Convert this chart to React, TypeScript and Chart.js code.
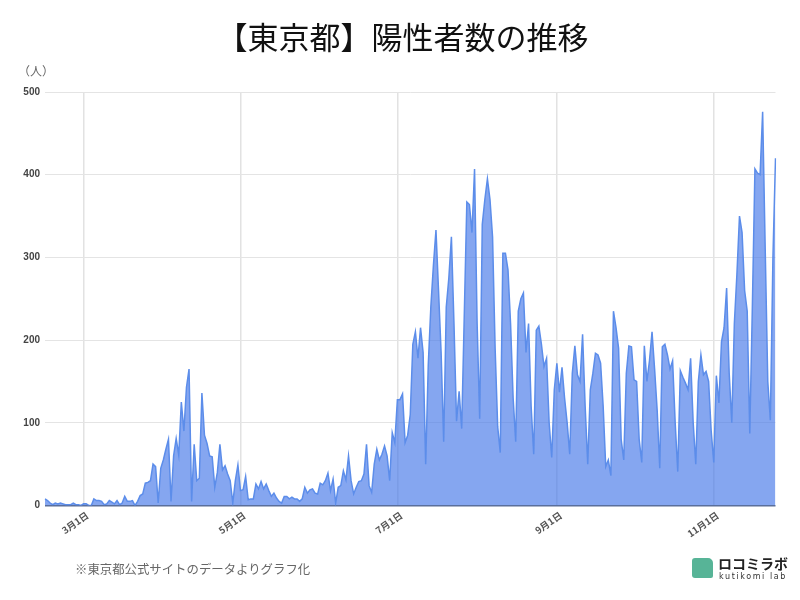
import React, { useEffect, useRef } from "react";
import { Chart, registerables } from "chart.js";

Chart.register(...registerables);

const titleText = "【東京都】陽性者数の推移";
const unitText = "（人）";
const noteText = "※東京都公式サイトのデータよりグラフ化";
const logoText = "ロコミラボ";
const logoSub = "kutikomi lab";

const monthLengths: [number, number][] = [[2, 29], [3, 31], [4, 30], [5, 31], [6, 30], [7, 31], [8, 31], [9, 30], [10, 31], [11, 25]];
const shownTicks = ["3月1日", "5月1日", "7月1日", "9月1日", "11月1日"];
const yTicks = [0, 100, 200, 300, 400, 500];

const days: string[] = [];
monthLengths.forEach(([m, n]) => {
  for (let d = m === 2 ? 15 : 1; d <= n; d++) days.push(`${m}月${d}日`);
});

const febApr = [
  8, 6, 3, 1, 3, 2, 3, 2, 1, 1, 1, 3, 1, 1, 0,
  2, 2, 0, 0, 8, 6, 6, 5, 1, 2, 6, 4, 2, 6, 1, 3, 11, 5, 5, 6, 0, 5, 12, 14, 27, 28, 30, 50, 47, 3, 45,
  55, 68, 80, 5, 60, 81, 61, 125, 90, 143, 165, 5, 74, 30, 33, 136, 85, 75, 60, 59, 22, 40, 74, 43, 48, 38, 30, 3, 30, 49,
];
const mayJun = [
  18, 19, 35, 7, 8, 8, 26, 20, 29, 20, 26, 18, 11, 15, 9, 5, 3, 11, 11, 8, 10, 8, 8, 5, 8, 22, 15, 19, 20, 15, 14,
  27, 25, 30, 39, 18, 32, 3, 22, 24, 42, 31, 60, 30, 14, 22, 29, 30, 38, 74, 24, 16, 50, 68, 55, 62, 72, 60, 30, 88, 76,
];
const julAug = [
  128, 128, 135, 76, 85, 110, 195, 210, 178, 215, 185, 50, 170, 240, 290, 333, 260, 185, 77, 240, 275, 325, 220, 102, 138, 93, 230, 367, 364, 330, 407,
  220, 105, 340, 370, 395, 370, 325, 190, 95, 64, 305, 305, 285, 220, 130, 77, 235, 250, 257, 185, 220, 120, 62, 212, 217, 195, 168, 178, 100, 58,
];
const sepOct = [
  140, 172, 137, 167, 130, 100, 62, 160, 193, 158, 150, 207, 120, 50, 140, 160, 184, 182, 172, 120, 47, 55, 36, 235, 215, 190, 80, 55, 160, 193,
  192, 152, 150, 80, 52, 193, 150, 175, 210, 165, 115, 45, 192, 195, 182, 165, 175, 100, 41, 163, 155, 148, 140, 178, 100, 50, 150, 182, 158, 162, 150, 90,
];
const novValues = [52, 157, 124, 198, 215, 263, 160, 100, 220, 280, 350, 330, 260, 235, 87, 240, 407, 402, 400, 476, 310, 150, 103, 300, 420];
const positives = [...febApr, ...mayJun, ...julAug, ...sepOct, ...novValues];

const jpFont = '"Noto Sans CJK JP", "Noto Sans", sans-serif';

export default function App() {
  const ref = useRef<HTMLCanvasElement>(null);
  useEffect(() => {
    document.body.style.margin = "0";
    const chart = new Chart(ref.current!, {
      type: "line",
      data: {
        labels: days,
        datasets: [
          {
            data: positives,
            borderColor: "#5c8dea",
            borderWidth: 1.5,
            backgroundColor: "rgba(70,120,232,0.66)",
            fill: "origin",
            pointRadius: 0,
            tension: 0,
            yAxisID: "y",
          },
        ],
      },
      options: {
        responsive: false,
        animation: false,
        layout: { padding: { left: 5 } },
        plugins: {
          legend: { display: false },
          tooltip: { enabled: false },
          title: {
            display: true,
            text: titleText,
            color: "#111",
            font: { family: jpFont, size: 31, weight: "normal" },
            padding: { top: 19, bottom: 35.8 },
          },
        },
        scales: {
          x: {
            type: "category",
            afterBuildTicks: (s: any) => {
              s.ticks = s.ticks.filter((t: any) => shownTicks.includes(days[t.value]));
            },
            afterFit: (s: any) => {
              s.height = 94.5;
            },
            ticks: {
              autoSkip: false,
              maxRotation: 35,
              minRotation: 35,
              padding: 4,
              labelOffset: 4,
              color: "#555",
              font: { family: jpFont, size: 9.5, weight: "bold" },
            },
            grid: { color: "#e2e2e2", lineWidth: 1.5, drawTicks: false },
            border: { display: false },
          },
          y: {
            min: 0,
            max: 500,
            afterFit: (s: any) => {
              s.width = 40;
            },
            afterBuildTicks: (s: any) => {
              s.ticks = yTicks.map((value) => ({ value }));
            },
            ticks: {
              padding: 5,
              color: "#444",
              font: { family: '"Liberation Sans", sans-serif', size: 10, weight: "bold" },
            },
            grid: {
              color: (c: any) => (c.tick && c.tick.value === 0 ? "#5d6f96" : "#e4e4e4"),
              lineWidth: (c: any) => (c.tick && c.tick.value === 0 ? 1.5 : 1),
              drawTicks: false,
            },
            border: { display: false },
          },
          spacer: {
            position: "right",
            min: 0,
            max: 1,
            afterFit: (s: any) => {
              s.width = 24.5;
            },
            ticks: { display: false },
            grid: { display: false },
            border: { display: false },
          },
        },
      },
    });
    return () => chart.destroy();
  }, []);

  return (
    <div style={{ position: "absolute", left: 0, top: 0, width: 800, height: 600, background: "#fff", overflow: "hidden" }}>
      <canvas ref={ref} width={800} height={600} style={{ display: "block" }} />
      <div style={{ position: "absolute", left: 18, top: 62, fontFamily: jpFont, fontSize: 12, color: "#666", lineHeight: "18px" }}>{unitText}</div>
      <div style={{ position: "absolute", left: 75, top: 560, fontFamily: jpFont, fontSize: 12.4, color: "#666", lineHeight: "18px", whiteSpace: "nowrap" }}>{noteText}</div>
      <div style={{ position: "absolute", left: 692, top: 558, width: 21, height: 20, background: "#57b497", borderRadius: "3px 5px 2px 3px" }} />
      <div style={{ position: "absolute", left: 718, top: 554, fontFamily: jpFont, fontSize: 14, fontWeight: 700, color: "#222", lineHeight: "18px", whiteSpace: "nowrap" }}>{logoText}</div>
      <div style={{ position: "absolute", left: 719, top: 571, fontFamily: '"DejaVu Sans", sans-serif', fontSize: 8, letterSpacing: 1.6, color: "#333", lineHeight: "12px", whiteSpace: "nowrap" }}>{logoSub}</div>
    </div>
  );
}
